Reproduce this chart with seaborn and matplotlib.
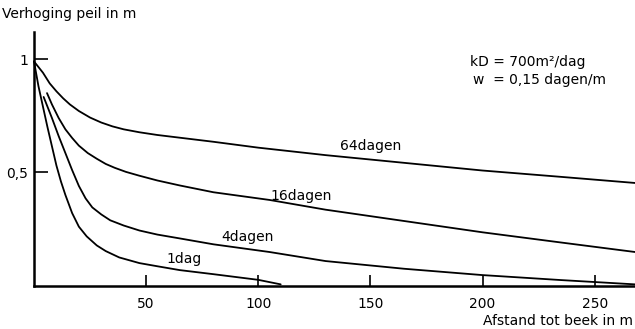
import pandas as pd
import matplotlib
matplotlib.use("Agg")
import matplotlib.pyplot as plt
import seaborn as sns

# afstand (m) en verhoging (m) per duur
x_64 = [0, 4, 7, 10, 13, 16, 20, 25, 30, 35, 40, 47, 55, 65, 80, 100, 130, 165, 200, 235, 268]
y_64 = [0.99, 0.94, 0.893, 0.858, 0.827, 0.80, 0.771, 0.742, 0.72, 0.703, 0.69, 0.677, 0.665, 0.653,
        0.635, 0.609, 0.576, 0.542, 0.508, 0.48, 0.453]

x_16 = [5.8, 8, 11, 14, 17, 20, 24, 28, 32, 36, 41, 47, 55, 65, 80, 105, 130, 165, 200, 235, 268]
y_16 = [0.85, 0.80, 0.74, 0.69, 0.652, 0.618, 0.585, 0.56, 0.537, 0.52, 0.502, 0.485, 0.464, 0.442,
        0.412, 0.378, 0.335, 0.285, 0.235, 0.19, 0.148]

x_4 = [4.3, 8, 11, 14, 17, 20, 23, 26, 30, 34, 40, 47, 55, 65, 80, 105, 130, 165, 200, 235, 268]
y_4 = [0.833, 0.74, 0.66, 0.585, 0.51, 0.44, 0.385, 0.345, 0.314, 0.288, 0.265, 0.243, 0.225, 0.208,
       0.182, 0.148, 0.108, 0.074, 0.046, 0.024, 0.005]

x_1 = [0, 2, 4, 6, 8, 10, 12, 14, 17, 20, 23.5, 28, 32, 38, 47, 55, 65, 80, 100, 110]
y_1 = [0.99, 0.88, 0.79, 0.70, 0.615, 0.53, 0.46, 0.40, 0.32, 0.26, 0.217, 0.177, 0.152, 0.124,
       0.099, 0.085, 0.068, 0.05, 0.025, 0.005]

curve_names = ["64dagen", "16dagen", "4dagen", "1dag"]
label_x = [150, 119, 95, 67]
label_y = [0.615, 0.397, 0.215, 0.117]

x_ticks = [50, 100, 150, 200, 250]
y_ticks = [0.5, 1.0]
y_ticklabels = ["0,5", "1"]

frames = []
for name, xs, ys in zip(curve_names, [x_64, x_16, x_4, x_1], [y_64, y_16, y_4, y_1]):
    frames.append(pd.DataFrame({"afstand": xs, "verhoging": ys, "duur": name}))
df = pd.concat(frames, ignore_index=True)

sns.set_style("ticks")
plt.rcParams["font.family"] = ["DejaVu Sans"]
plt.rcParams["text.color"] = "black"
plt.rcParams["xtick.color"] = "black"
plt.rcParams["ytick.color"] = "black"
plt.rcParams["axes.edgecolor"] = "black"

W, H = 635, 329
fig = plt.figure(figsize=(W / 100, H / 100), dpi=100)
ax = fig.add_axes([34 / W, 1 - 285.5 / H, 1 - 34 / W, (285.5 - 32) / H])

sns.lineplot(data=df, x="afstand", y="verhoging", hue="duur",
             palette=["black"] * 4, legend=False, sort=False,
             estimator=None, linewidth=1.3, ax=ax)
for line in ax.lines:
    line.set_clip_on(False)
    line.set_solid_joinstyle("round")

ax.set_xlim(0, 268)
ax.set_ylim(0, 1.12)
sns.despine(ax=ax)
ax.spines["left"].set_linewidth(1.8)
ax.spines["bottom"].set_linewidth(1.8)

ax.set_xticks(x_ticks)
ax.set_yticks(y_ticks)
ax.set_yticklabels(y_ticklabels)
ax.tick_params(axis="x", direction="in", length=8, width=1.2, pad=8, labelsize=10)
ax.tick_params(axis="y", direction="in", length=10, width=1.2, pad=4, labelsize=10)
ax.set_xlabel("")
ax.set_ylabel("")

for name, lx, ly in zip(curve_names, label_x, label_y):
    ax.text(lx, ly, name, ha="center", va="center", fontsize=10)

fig.text(2 / W, 1 - 14 / H, "Verhoging peil in m", ha="left", va="center", fontsize=10)
fig.text(633 / W, 1 - 321 / H, "Afstand tot beek in m", ha="right", va="center", fontsize=10)
fig.text(470 / W, 1 - 62 / H, "kD = 700m\u00b2/dag", ha="left", va="center", fontsize=10)
fig.text(473 / W, 1 - 80 / H, "w  = 0,15 dagen/m", ha="left", va="center", fontsize=10)

fig.savefig("out.png", dpi=100)
